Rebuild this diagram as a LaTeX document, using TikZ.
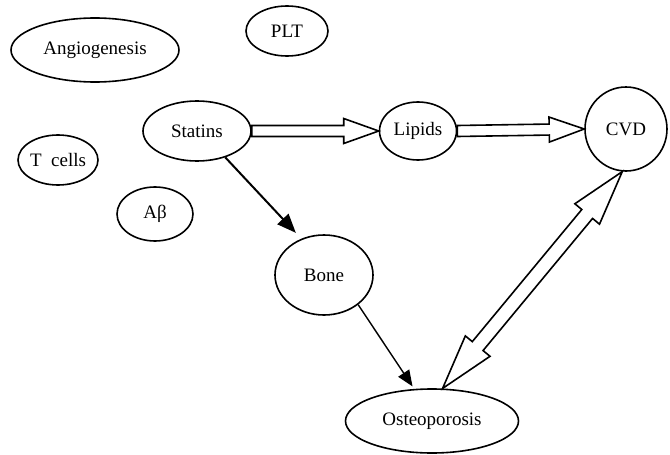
\documentclass[tikz,border=0pt]{standalone}
\usepackage{fontspec}
\setmainfont{Liberation Serif}
\usepackage{tikz}
\usetikzlibrary{shapes.geometric, arrows.meta, positioning, calc}

% open block arrow: start, tip, shaft half width, head half width, head length
\newcommand{\fatarrow}[5]{%
  \path ($(#2)!#5!(#1)$) coordinate (fa-h);
  \draw[hollow] (#2) -- ($(fa-h)!#4!90:(#2)$) -- ($(fa-h)!#3!90:(#2)$)
    -- ($(#1)!#3!90:(#2)$) -- ($(#1)!#3!-90:(#2)$)
    -- ($(fa-h)!#3!-90:(#2)$) -- ($(fa-h)!#4!-90:(#2)$) -- cycle;
}
% same, with a head at both ends
\newcommand{\fatdoublearrow}[5]{%
  \path ($(#2)!#5!(#1)$) coordinate (fa-h) ($(#1)!#5!(#2)$) coordinate (fa-t);
  \draw[hollow] (#2) -- ($(fa-h)!#4!90:(#2)$) -- ($(fa-h)!#3!90:(#2)$)
    -- ($(fa-t)!#3!90:(#2)$) -- ($(fa-t)!#4!90:(#2)$) -- (#1)
    -- ($(fa-t)!#4!-90:(#2)$) -- ($(fa-t)!#3!-90:(#2)$)
    -- ($(fa-h)!#3!-90:(#2)$) -- ($(fa-h)!#4!-90:(#2)$) -- cycle;
}

\begin{document}
\begin{tikzpicture}[x=1pt, y=-1pt,
    bubble/.style={draw, ellipse, line width=1.6pt, inner sep=0pt, font=\fontsize{19}{22}\selectfont},
    hollow/.style={draw, line width=1.6pt, line join=miter},
    pointer/.style={draw, line width=2pt, -{Triangle[length=19pt, width=15pt]}},
    thinpointer/.style={draw, line width=1.4pt, -{Triangle[length=16pt, width=13pt]}}
]
    \useasboundingbox (0,0) rectangle (670,455);

    % Factors
    \node[bubble, minimum width=168pt, minimum height=64pt] (angio) at (95,50) {Angiogenesis};
    \node[bubble, minimum width=82pt, minimum height=50pt] (plt) at (287,31) {PLT};
    \node[bubble, minimum width=80pt, minimum height=50pt] (tcells) at (58,160) {T~~cells};
    \node[bubble, minimum width=76pt, minimum height=54pt] (abeta) at (155,214) {Aβ};

    % Main chain
    \node[bubble, minimum width=108pt, minimum height=60pt] (statins) at (197,131) {Statins};
    \node[bubble, minimum width=77pt, minimum height=58pt] (lipids) at (418,131) {Lipids};
    \node[bubble, minimum width=82pt, minimum height=84pt] (cvd) at (626,129) {CVD};
    \node[bubble, minimum width=98pt, minimum height=80pt] (bone) at (324,275) {Bone};
    \node[bubble, minimum width=173pt, minimum height=64pt] (osteo) at (432,421) {Osteoporosis};

    % Connections
    \fatarrow{statins.east}{lipids.west}{5.5pt}{12.5pt}{35pt}
    \fatarrow{lipids.east}{cvd.west}{5.5pt}{12.5pt}{35pt}
    \fatdoublearrow{osteo.72}{cvd.-95}{7pt}{16pt}{55pt}

    \draw[pointer, shorten >=8pt] (statins.-43) -- (bone.122);
    \draw[thinpointer, shorten >=3pt] (bone.-41) -- (osteo.119);
\end{tikzpicture}
\end{document}
